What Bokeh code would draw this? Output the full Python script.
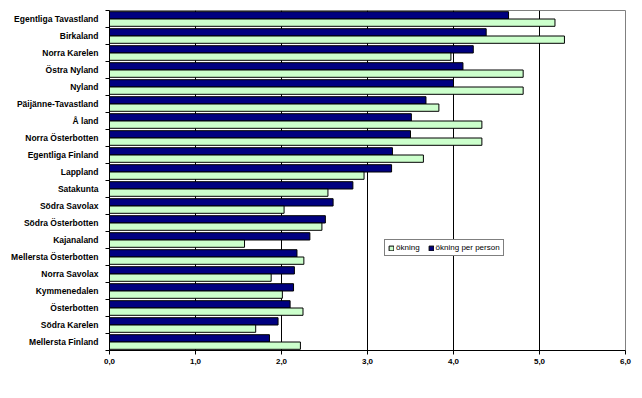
import numpy as np
from bokeh.plotting import figure
from bokeh.models import ColumnDataSource, Range1d, FixedTicker, Legend, LegendItem
from bokeh.embed import file_html
from bokeh.resources import INLINE

categories = ["Egentliga Tavastland", "Birkaland", "Norra Karelen", "Östra Nyland", "Nyland",
              "Päijänne-Tavastland", "Å land", "Norra Österbotten", "Egentliga Finland", "Lappland",
              "Satakunta", "Södra Savolax", "Södra Österbotten", "Kajanaland", "Mellersta Österbotten",
              "Norra Savolax", "Kymmenedalen", "Österbotten", "Södra Karelen", "Mellersta Finland"]
okning_per_person = [4.64, 4.38, 4.23, 4.11, 4.00, 3.68, 3.51, 3.50, 3.29, 3.28,
                     2.83, 2.60, 2.51, 2.33, 2.18, 2.15, 2.14, 2.10, 1.96, 1.86]
okning = [5.18, 5.29, 3.97, 4.81, 4.81, 3.83, 4.33, 4.33, 3.65, 2.96,
          2.54, 2.03, 2.47, 1.57, 2.26, 1.88, 2.01, 2.25, 1.70, 2.22]
x_ticks = [0, 1, 2, 3, 4, 5, 6]
x_tick_labels = ["0,0", "1,0", "2,0", "3,0", "4,0", "5,0", "6,0"]

n = len(categories)
centers = n - np.arange(n) - 0.5
src = ColumnDataSource(dict(cat=categories, c=centers,
                            y_pp=centers + 0.215, y_ok=centers - 0.215,
                            pp=okning_per_person, ok=okning))

FONT = "Liberation Sans"
p = figure(width=640, height=392, output_backend="svg", toolbar_location=None,
           x_range=Range1d(0, 6), y_range=Range1d(0, n),
           min_border_left=109, min_border_right=15, min_border_top=10, min_border_bottom=42)
p.outline_line_color = "#808080"
p.outline_line_width = 1

r_pp = p.hbar(y="y_pp", right="pp", left=0, height=0.43, source=src,
              fill_color="#000080", line_color="black", line_width=1)
r_ok = p.hbar(y="y_ok", right="ok", left=0, height=0.43, source=src,
              fill_color="#CCFFCC", line_color="black", line_width=1)

# x axis
p.xaxis.ticker = FixedTicker(ticks=x_ticks)
p.xaxis.major_label_overrides = {t: l for t, l in zip(x_ticks, x_tick_labels)}
p.xaxis.major_tick_out = 4
p.xaxis.major_tick_in = 0
p.xaxis.minor_tick_out = 0
p.xaxis.minor_tick_in = 0
p.xaxis.axis_line_color = "black"
p.xaxis.major_label_text_font = FONT
p.xaxis.major_label_text_font_style = "bold"
p.xaxis.major_label_text_font_size = "8px"
p.xaxis.major_label_text_color = "black"
p.xaxis.major_label_standoff = 4

# y axis
p.yaxis.ticker = FixedTicker(ticks=list(centers), minor_ticks=list(np.arange(n + 1)))
p.yaxis.major_label_overrides = {float(c): name for c, name in zip(centers, categories)}
p.yaxis.major_tick_out = 0
p.yaxis.major_tick_in = 0
p.yaxis.minor_tick_out = 4
p.yaxis.minor_tick_in = 0
p.yaxis.axis_line_color = "black"
p.yaxis.major_label_text_font = FONT
p.yaxis.major_label_text_font_style = "bold"
p.yaxis.major_label_text_font_size = "8.5px"
p.yaxis.major_label_text_color = "black"
p.yaxis.major_label_standoff = 7

p.xgrid.grid_line_color = "black"
p.xgrid.grid_line_width = 1
p.ygrid.grid_line_color = None

legend = Legend(items=[LegendItem(label="ökning", renderers=[r_ok]),
                       LegendItem(label="ökning per person", renderers=[r_pp])],
                orientation="horizontal", location=(275, 94),
                label_text_font=FONT, label_text_font_size="8px",
                label_text_color="black",
                glyph_width=6, glyph_height=6, label_standoff=2, spacing=8,
                padding=3, margin=0, label_height=8,
                border_line_color="black", border_line_width=1,
                background_fill_color="white", background_fill_alpha=1)
p.add_layout(legend)

open("out.html", "w").write(file_html(p, INLINE))
